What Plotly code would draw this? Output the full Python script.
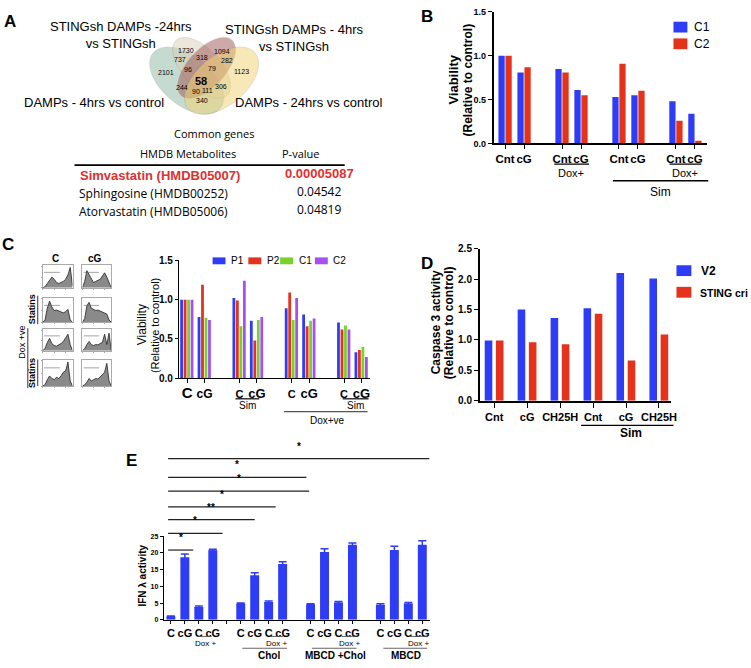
import numpy as np
import plotly.graph_objects as go

W, H = 751, 668
BLUE = "#2f3cf5"
RED = "#e4321b"
GREEN = "#79d12e"
PURPLE = "#a650f2"
ARIAL = "Arial, Liberation Sans, sans-serif"
SOFT = "Open Sans, Noto Sans, sans-serif"

# ---------------- data ----------------
venn_sets = ["STINGsh DAMPs -24hrs<br>vs STINGsh", "STINGsh DAMPs - 4hrs<br>vs STINGsh",
             "DAMPs - 4hrs vs control", "DAMPs - 24hrs vs control"]
venn_counts = ["1730", "1094", "737", "318", "282", "2101", "96", "79", "1123",
               "58", "244", "306", "90", "111", "340"]

metabolites = ["Simvastatin (HMDB05007)", "Sphingosine (HMDB00252)", "Atorvastatin (HMDB05006)"]
p_values = ["0.00005087", "0.04542", "0.04819"]

b_x = [0, 1, 3, 4, 6, 7, 9, 10]
b_labels = ["Cnt", "cG", "Cnt", "cG", "Cnt", "cG", "Cnt", "cG"]
b_c1 = [1.00, 0.81, 0.85, 0.61, 0.53, 0.55, 0.48, 0.34]
b_c2 = [1.00, 0.87, 0.81, 0.55, 0.91, 0.60, 0.26, 0.03]

c_x = [0, 1, 3, 4, 6, 7, 9, 10]
c_labels = ["C", "cG", "C", "cG", "C", "cG", "C", "cG"]
c_p1 = [1.00, 0.78, 1.02, 0.73, 0.89, 0.81, 0.71, 0.33]
c_p2 = [1.00, 1.19, 0.99, 0.48, 1.09, 0.66, 0.62, 0.36]
c_c1 = [1.00, 0.77, 0.66, 0.74, 0.74, 0.73, 0.67, 0.40]
c_c2 = [1.00, 0.74, 1.24, 0.78, 1.02, 0.76, 0.62, 0.27]

# flow histograms (rough counts per channel bin), rows: ctrl, statins, dox, dox+statins
hist_c = [
    [0, 5, 20, 35, 50, 40, 25, 20, 25, 30, 40, 60, 95, 10],
    [0, 10, 60, 90, 65, 50, 52, 48, 45, 40, 45, 55, 10, 0],
    [0, 10, 40, 60, 35, 25, 22, 28, 35, 45, 60, 80, 30, 0],
    [0, 5, 25, 40, 30, 25, 35, 30, 40, 55, 60, 95, 20, 0],
]
hist_cg = [
    [0, 30, 80, 60, 40, 25, 30, 35, 40, 55, 70, 50, 20, 0],
    [0, 15, 70, 85, 60, 55, 50, 52, 48, 45, 40, 35, 10, 0],
    [0, 10, 30, 45, 30, 25, 30, 28, 35, 40, 80, 30, 85, 0],
    [0, 5, 15, 30, 20, 25, 30, 28, 35, 45, 55, 90, 20, 0],
]

d_labels = ["Cnt", "cG", "CH25H", "Cnt", "cG", "CH25H"]
d_v2 = [0.99, 1.50, 1.36, 1.52, 2.10, 2.01]
d_sting = [0.99, 0.96, 0.93, 1.43, 0.66, 1.09]

e_x = [0, 1, 2, 3, 5, 6, 7, 8, 10, 11, 12, 13, 15, 16, 17, 18]
e_labels = ["C", "cG"] * 8
e_vals = [1.0, 18.7, 3.8, 20.8, 4.8, 13.3, 5.3, 16.7, 4.6, 20.3, 5.2, 22.5, 4.5, 20.9, 4.9, 22.5]
e_err = [0.1, 1.0, 0.3, 0.3, 0.2, 0.8, 0.3, 0.7, 0.2, 1.0, 0.3, 0.5, 0.3, 1.1, 0.3, 1.2]
e_sig_end = [18.5, 9.7, 9.9, 7.5, 6.0, 3.7, 1.6]
e_sig_text = ["*", "*", "*", "*", "**", "*", "*"]


# ---------------- helpers ----------------
def px(x):
    return x / W


def py(y):
    return 1 - y / H


def dom_x(a, b):
    return [px(a), px(b)]


def dom_y(top, bottom):
    return [py(bottom), py(top)]


annotations = []
shapes = []


def text(t, x, y, size=12, bold=False, color="black", angle=0, anchor="center", family=ARIAL):
    annotations.append(dict(
        text=t, x=px(x), y=py(y), xref="paper", yref="paper", showarrow=False,
        xanchor=anchor, yanchor="middle", textangle=angle,
        font=dict(size=size, color=color, family=family, weight="bold" if bold else "normal"),
    ))


def hline(x0, x1, y, width=1.2, color="black"):
    shapes.append(dict(type="line", xref="paper", yref="paper", x0=px(x0), x1=px(x1),
                       y0=py(y), y1=py(y), line=dict(color=color, width=width)))


def vline(x, y0, y1, width=1.0, color="#333"):
    shapes.append(dict(type="line", xref="paper", yref="paper", x0=px(x), x1=px(x),
                       y0=py(y0), y1=py(y1), line=dict(color=color, width=width)))


def rect(x0, y0, x1, y1, color):
    shapes.append(dict(type="rect", xref="paper", yref="paper", x0=px(x0), x1=px(x1),
                       y0=py(y1), y1=py(y0), fillcolor=color, line=dict(width=0)))


def ellipse(cx, cy, a, b, ang, color):
    t = np.linspace(0, 2 * np.pi, 72)
    r = np.radians(ang)
    xs = cx + a * np.cos(t) * np.cos(r) - b * np.sin(t) * np.sin(r)
    ys = cy + a * np.cos(t) * np.sin(r) + b * np.sin(t) * np.cos(r)
    path = "M" + " L".join(f"{px(x):.5f},{py(y):.5f}" for x, y in zip(xs, ys)) + " Z"
    shapes.append(dict(type="path", xref="paper", yref="paper", path=path,
                       fillcolor=color, opacity=0.5, line=dict(width=0.6, color="rgba(120,110,90,0.6)")))


fig = go.Figure()

# ---------------- panel A ----------------
text("<b>A</b>", 10, 16, size=17)
ellipse(188, 76, 44, 25, 40, "#8fb8a2")
ellipse(203, 63, 38, 19, 48, "#dccfb6")
ellipse(208, 63, 38, 19, -48, "#9c5555")
ellipse(223, 76, 44, 25, -40, "#f2d372")
venn_pos = [(187, 45), (223, 46), (181, 54), (203, 52), (229, 56), (167, 68), (189, 65), (213, 64),
            (243, 67), (202, 76), (183, 83), (222, 82), (197, 87), (209, 86), (203, 96)]
for lab, (vx, vy) in zip(venn_counts, venn_pos):
    if lab == "58":
        text("<b>58</b>", vx, vy, size=11)
    else:
        text(lab, vx, vy, size=7)
text(venn_sets[0], 122, 30, size=13)
text(venn_sets[1], 296, 33, size=13)
text(venn_sets[2], 95, 98, size=13)
text(venn_sets[3], 311, 98, size=13)

text("Common genes", 215, 130, size=11, family=SOFT)
text("HMDB Metabolites", 189, 150, size=11, family=SOFT)
text("P-value", 303, 150, size=11, family=SOFT)
hline(75, 347, 162, width=1.6)
rows_y = [173, 191, 209]
for i, (m, p) in enumerate(zip(metabolites, p_values)):
    if i == 0:
        text(f"<b>{m}</b>", 161, rows_y[i], size=13, color="#e03030")
        text(f"<b>{p}</b>", 322, rows_y[i] - 2, size=13, color="#e03030")
    else:
        text(m, 155, rows_y[i], size=12, family=SOFT)
        text(p, 321, rows_y[i] - 2, size=12, family=SOFT)

# ---------------- panel B ----------------
text("<b>B</b>", 430, 11, size=17)
fig.add_trace(go.Bar(x=b_x, y=b_c1, offset=-0.35, width=0.33, marker_color=BLUE,
                     marker_line_width=0, xaxis="x", yaxis="y", showlegend=False))
fig.add_trace(go.Bar(x=b_x, y=b_c2, offset=0.02, width=0.33, marker_color=RED,
                     marker_line_width=0, xaxis="x", yaxis="y", showlegend=False))
text("Viability", 457, 75, size=13, bold=True, angle=-90)
text("(Relative to control)", 471, 75, size=12, bold=True, angle=-90)
rect(678, 16, 692, 27, BLUE)
rect(678, 33, 692, 44, RED)
text("C1", 697, 21, size=12, anchor="left")
text("C2", 697, 39, size=12, anchor="left")
hline(558, 593, 161)
text("Dox+", 575, 170, size=11)
hline(674, 706, 161)
text("Dox+", 690, 170, size=11)
hline(617, 713, 178, width=1.6)
text("Sim", 665, 189, size=12)

# ---------------- panel C ----------------
text("<b>C</b>", 8, 243, size=17)
for name, vals, col, off in [("P1", c_p1, BLUE, -0.4), ("P2", c_p2, RED, -0.2),
                             ("C1", c_c1, GREEN, 0.0), ("C2", c_c2, PURPLE, 0.2)]:
    fig.add_trace(go.Bar(x=c_x, y=vals, offset=off, width=0.16, marker_color=col,
                         marker_line_width=0, xaxis="x2", yaxis="y2", showlegend=False, name=name))
text("Viability", 143, 325, size=12, angle=-90)
text("(Relative to control)", 156, 325, size=11, angle=-90)
for name, col, sx, tx in [("P1", BLUE, 214, 231), ("P2", RED, 250, 267),
                          ("C1", GREEN, 282, 299), ("C2", PURPLE, 317, 333)]:
    rect(sx, 256, sx + 13, 263, col)
    text(name, tx, 259, size=10, anchor="left")
hline(237, 261, 400)
text("Sim", 249, 407, size=10)
hline(345, 371, 400)
text("Sim", 358, 407, size=10)
hline(286, 370, 413, color="#555")
text("Dox+ve", 330, 422, size=10)

# flow cytometry mini histograms
hist_cols = [(43, 73), (83, 112)]
hist_rows = [(264, 287), (297, 322), (329, 351), (360, 387)]
layout_axes = {}
k = 5
for r, (yt, yb) in enumerate(hist_rows):
    for c, (xl, xr) in enumerate(hist_cols):
        counts = hist_c[r] if c == 0 else hist_cg[r]
        fig.add_trace(go.Scatter(x=list(range(len(counts))), y=counts, mode="lines", fill="tozeroy",
                                 fillcolor="#8a8a8a", line=dict(color="#222", width=0.8),
                                 xaxis=f"x{k}", yaxis=f"y{k}", showlegend=False))
        layout_axes[f"xaxis{k}"] = dict(domain=dom_x(xl, xr), anchor=f"y{k}", range=[0, 13],
                                        showline=True, mirror=True, linecolor="#aaa", linewidth=0.8,
                                        showgrid=False, zeroline=False, ticks="outside", ticklen=1,
                                        tickcolor="#aaa", showticklabels=False, nticks=5)
        layout_axes[f"yaxis{k}"] = dict(domain=dom_y(yt, yb), anchor=f"x{k}", range=[0, 105],
                                        showline=True, mirror=True, linecolor="#aaa", linewidth=0.8,
                                        showgrid=False, zeroline=False, ticks="outside", ticklen=1,
                                        tickcolor="#aaa", showticklabels=False, nticks=4)
        shapes.append(dict(type="line", xref=f"x{k}", yref=f"y{k}", x0=0.6, x1=7.5, y0=72, y1=72,
                           line=dict(color="#666", width=0.6)))
        k += 1
text("<b>C</b>", 56, 257, size=10)
text("<b>cG</b>", 96, 257, size=10)
text("<b>Statins</b>", 33, 309, size=9, angle=-90)
vline(38, 295, 324)
text("Dox +ve", 22, 342, size=9, angle=-90)
vline(28, 328, 389)
text("<b>Statins</b>", 33, 374, size=9, angle=-90)
vline(38, 360, 387)

# ---------------- panel D ----------------
text("<b>D</b>", 430, 262, size=17)
fig.add_trace(go.Bar(x=list(range(6)), y=d_v2, offset=-0.29, width=0.23, marker_color=BLUE,
                     marker_line_width=0, xaxis="x3", yaxis="y3", showlegend=False))
fig.add_trace(go.Bar(x=list(range(6)), y=d_sting, offset=0.05, width=0.23, marker_color=RED,
                     marker_line_width=0, xaxis="x3", yaxis="y3", showlegend=False))
text("Caspase 3 activity", 439, 322, size=12, bold=True, angle=-90)
text("(Relative to control)", 452, 322, size=12, bold=True, angle=-90)
rect(681, 264, 696, 275, BLUE)
rect(681, 286, 696, 297, RED)
text("V2", 704, 270, size=12, bold=True, anchor="left")
text("STING cri", 703, 292, size=10.5, bold=True, anchor="left")
hline(585, 678, 427)
text("Sim", 635, 435, size=12, bold=True)

# ---------------- panel E ----------------
text("<b>E</b>", 132, 463, size=17)
fig.add_trace(go.Bar(x=e_x, y=e_vals, width=0.64, marker_color=BLUE, marker_line_width=0,
                     error_y=dict(type="data", array=e_err, color=BLUE, thickness=1.5, width=4),
                     xaxis="x4", yaxis="y4", showlegend=False))
text("IFN λ activity", 144, 580, size=10, bold=True, angle=-90)
sig_y = [461, 480, 494, 510, 523, 537, 554]
for end, lab, yy in zip(e_sig_end, e_sig_text, sig_y):
    shapes.append(dict(type="line", xref="x4", yref="paper", x0=-0.2, x1=end, y0=py(yy), y1=py(yy),
                       line=dict(color="#222", width=1.2)))
    annotations.append(dict(text=lab, x=(end - 0.2) / 2, y=py(yy - 5), xref="x4", yref="paper",
                            showarrow=False, font=dict(size=10, family=ARIAL, weight="bold")))
for x0, x1, tx in [(199, 213, 207), (272, 285, 278), (344, 359, 352), (412, 430, 421)]:
    hline(x0, x1, 642, width=0.9, color="#555")
    text("Dox +", tx, 649, size=8)
for x0, x1, tx, lab in [(244, 289, 271, "Chol"), (314, 359, 338, "MBCD +Chol"), (386, 430, 409, "MBCD")]:
    hline(x0, x1, 654, width=0.9, color="#555")
    text(lab, tx, 661, size=10, bold=True)

# ---------------- axes ----------------
axis_common = dict(showline=True, linecolor="black", showgrid=False, zeroline=False,
                   ticks="outside", tickcolor="black", tickangle=0)
c_sizes = [15, 12, 11, 13, 11, 13, 11, 13]
fig.update_layout(
    xaxis=dict(axis_common, domain=dom_x(497, 712), anchor="y", range=[-0.6, 10.65],
               tickvals=b_x, ticktext=b_labels, linewidth=1.6, ticklen=4,
               tickfont=dict(size=11.5, family=ARIAL, weight="bold")),
    yaxis=dict(axis_common, domain=dom_y(6, 140), anchor="x", range=[0, 1.5], dtick=0.5,
               tickformat=".1f", linewidth=1.6, ticklen=4,
               tickfont=dict(size=9, family=ARIAL, weight="bold")),
    xaxis2=dict(axis_common, domain=dom_x(180, 372), anchor="y2", range=[-0.48, 10.46],
                tickvals=c_x, ticktext=[f"<span style='font-size:{s}px'>{t}</span>" for t, s in zip(c_labels, c_sizes)],
                linewidth=1, ticklen=4, tickfont=dict(size=12, family=ARIAL, weight="bold")),
    yaxis2=dict(axis_common, domain=dom_y(259, 379), anchor="x2", range=[0, 1.5], dtick=0.5,
                tickformat=".1f", linewidth=1, ticklen=3,
                tickfont=dict(size=10, family=ARIAL, weight="bold")),
    xaxis3=dict(axis_common, domain=dom_x(483, 676), anchor="y3", range=[-0.44, 5.38],
                tickvals=list(range(6)), ticktext=d_labels, linewidth=1.6, ticklen=5,
                tickfont=dict(size=11, family=ARIAL, weight="bold")),
    yaxis3=dict(axis_common, domain=dom_y(247, 402), anchor="x3", range=[0, 2.5], dtick=0.5,
                tickformat=".1f", linewidth=1.6, ticklen=4,
                tickfont=dict(size=10, family=ARIAL, weight="bold")),
    xaxis4=dict(axis_common, domain=dom_x(165, 433), anchor="y4", range=[-0.5, 18.56],
                tickvals=e_x + [4], ticktext=e_labels + [""], linewidth=1.2, ticklen=3,
                tickfont=dict(size=11, family=ARIAL, weight="bold")),
    yaxis4=dict(axis_common, domain=dom_y(540, 625), anchor="x4", range=[0, 25], dtick=5,
                linewidth=1.2, ticklen=3, tickfont=dict(size=7, family=ARIAL, weight="bold")),
    **layout_axes,
)
fig.update_layout(
    width=W, height=H, margin=dict(l=0, r=0, t=0, b=0),
    paper_bgcolor="white", plot_bgcolor="white",
    barmode="overlay", font=dict(family=ARIAL, color="black"),
    annotations=annotations, shapes=shapes,
)

# drop the default body margin so the figure sits flush with the window
fig.write_html("out.html", config={"displayModeBar": False},
               post_script="document.body.style.margin='0';document.body.style.overflow='hidden';")
